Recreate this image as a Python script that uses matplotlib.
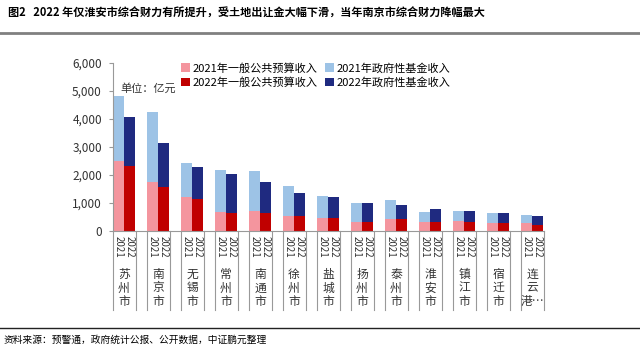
import numpy as np
import matplotlib
matplotlib.use("Agg")
import matplotlib.pyplot as plt
from matplotlib.lines import Line2D

plt.rcParams['font.family'] = ['Noto Sans CJK SC', 'DejaVu Sans']

# Data (亿元)
cities = ['苏州市', '南京市', '无锡市', '常州市', '南通市', '徐州市', '盐城市',
          '扬州市', '泰州市', '淮安市', '镇江市', '宿迁市', '连云港…']
budget_2021 = [2510, 1740, 1205, 690, 715, 548, 477, 334, 418, 322, 346, 286, 286]
budget_2022 = [2330, 1560, 1145, 632, 632, 548, 453, 330, 418, 322, 322, 274, 227]
total_2021 = [4830, 4245, 2420, 2180, 2147, 1610, 1252, 1002, 1109, 680, 727, 656, 561]
total_2022 = [4060, 3137, 2278, 2039, 1765, 1348, 1229, 1002, 942, 799, 727, 632, 525]
fund_2021 = [t - b for t, b in zip(total_2021, budget_2021)]
fund_2022 = [t - b for t, b in zip(total_2022, budget_2022)]
years = ['2021', '2022']
yticks = [0, 1000, 2000, 3000, 4000, 5000, 6000]

c_pink = '#F4959E'
c_red = '#C00000'
c_lblue = '#9DC3E6'
c_navy = '#1F2A80'

fig = plt.figure(figsize=(6.4, 3.52), dpi=100)
ax = fig.add_axes([113/640, 121/352, 431/640, 168/352])

n = len(cities)
x = np.arange(n)
w = 11/34
ax.bar(x, budget_2021, width=w, align='edge', color=c_pink, label='2021年一般公共预算收入')
ax.bar(x, fund_2021, width=w, bottom=budget_2021, align='edge', color=c_lblue,
       label='2021年政府性基金收入')
ax.bar(x + w, budget_2022, width=w, align='edge', color=c_red, label='2022年一般公共预算收入')
ax.bar(x + w, fund_2022, width=w, bottom=budget_2022, align='edge', color=c_navy,
       label='2022年政府性基金收入')

ax.set_xlim(0, n - 1 + 23/34)
ax.set_ylim(0, 6000)
ax.set_yticks(yticks)
ax.set_yticklabels([f'{v:,}' for v in yticks], fontsize=8.5, color='#333333')
ax.tick_params(axis='y', length=3, width=0.8, color='#999999', pad=5)
ax.set_xticks([])
for s in ['top', 'right']:
    ax.spines[s].set_visible(False)
for s in ['left', 'bottom']:
    ax.spines[s].set_color('#999999')
    ax.spines[s].set_linewidth(0.8)

# multi-level category labels
tr = ax.get_xaxis_transform()
for i, city in enumerate(cities):
    for j, yr in enumerate(years):
        ax.text(i + w * (j + 0.5), -0.03, yr, transform=tr, rotation=-90,
                ha='center', va='top', fontsize=7, color='#333333', clip_on=False)
    ax.text(i + w, -0.22, '\n'.join(city if len(city) == 3 else ['连', '云', '港…']),
            transform=tr, ha='center', va='top', fontsize=8.5, linespacing=1.05,
            color='#333333', clip_on=False)
    for xl in [i, i + 23/34]:
        ax.add_line(Line2D([xl, xl], [0, -0.47], transform=tr, color='#999999',
                           lw=0.8, clip_on=False))

handles, labels = ax.get_legend_handles_labels()
order = [0, 2, 1, 3]
fig.legend([handles[k] for k in order], [labels[k] for k in order], ncol=2,
           loc='upper left', bbox_to_anchor=(173/640, 1 - 55/352), frameon=False,
           fontsize=8, handlelength=0.8, handleheight=0.8, handletextpad=0.3,
           columnspacing=0.6, labelspacing=0.35, borderpad=0.2)
fig.text(120/640, 1 - 88/352, '单位：亿元', fontsize=8, va='center', color='#333333')

# title and source
fig.text(8/640, 1 - 13/352, '图2   2022 年仅淮安市综合财力有所提升，受土地出让金大幅下滑，当年南京市综合财力降幅最大',
         fontsize=8, fontweight='bold', va='center')
fig.add_artist(Line2D([0, 1], [1 - 33/352, 1 - 33/352], color='#808080', lw=2))
fig.add_artist(Line2D([0, 1], [1 - 328/352, 1 - 328/352], color='#222222', lw=1))
fig.text(4/640, 1 - 340/352, '资料来源：预警通，政府统计公报、公开数据，中证鹏元整理',
         fontsize=7, va='center')

fig.savefig('out.png', dpi=100)
